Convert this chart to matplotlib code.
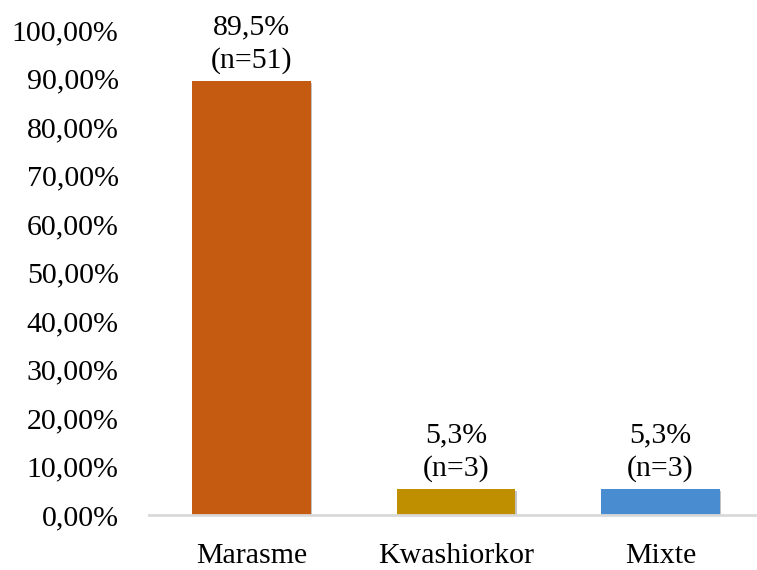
import matplotlib
matplotlib.use("Agg")
import matplotlib.pyplot as plt
import matplotlib.patheffects as pe
from matplotlib.ticker import FuncFormatter

categories = ["Marasme", "Kwashiorkor", "Mixte"]
values = [89.5, 5.3, 5.3]
counts = [51, 3, 3]
colors = ["#C55A11", "#BF8F00", "#4A8CD0"]

plt.rcParams["font.family"] = ["Liberation Serif", "DejaVu Serif"]

fig = plt.figure(figsize=(7.57, 5.70), dpi=100)
ax = fig.add_axes([0.197, 0.0965, 0.80, 0.8505])

bars = ax.bar(range(len(categories)), values, width=0.58, color=colors, zorder=3)
for b in bars:
    b.set_path_effects([pe.SimplePatchShadow(offset=(1, -1), shadow_rgbFace="#888888", alpha=0.5), pe.Normal()])

for i, (v, n) in enumerate(zip(values, counts)):
    lbl = ("%.1f%%" % v).replace(".", ",") + "\n(n=%d)" % n
    ax.annotate(lbl, (i, v), xytext=(0, 5), textcoords="offset points",
                ha="center", va="bottom", fontsize=21.5, linespacing=1.35)

ax.set_ylim(0, 100)
ax.set_xlim(-0.5, 2.46)
ax.set_yticks(range(0, 101, 10))
ax.yaxis.set_major_formatter(FuncFormatter(lambda y, p: ("%.2f%%" % y).replace(".", ",")))
ax.set_xticks(range(len(categories)))
ax.set_xticklabels(categories)
ax.tick_params(axis="both", labelsize=21.5, length=0)
ax.tick_params(axis="x", pad=20)
ax.tick_params(axis="y", pad=22)
for lab in ax.get_yticklabels():
    lab.set_horizontalalignment("right")

for s in ["top", "right", "left"]:
    ax.spines[s].set_visible(False)
ax.spines["bottom"].set_color("#D9D9D9")
ax.spines["bottom"].set_linewidth(2)
ax.spines["bottom"].set_zorder(4)

fig.savefig("out.png", dpi=100)
